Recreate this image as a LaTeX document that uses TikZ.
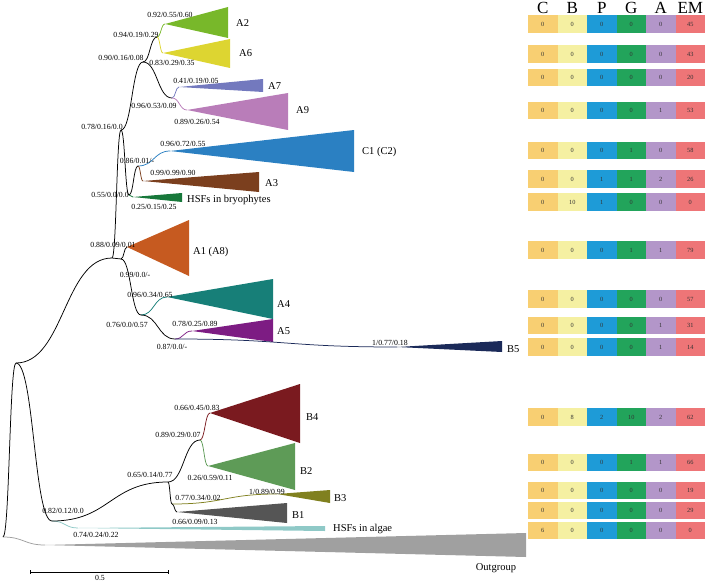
\documentclass[tikz,border=0pt]{standalone}
\usepackage{fontspec}
\setmainfont{Liberation Serif}
\usepackage{xcolor}
\usetikzlibrary{calc,positioning}

% clade colours
\definecolor{colA2}{HTML}{78B82A}
\definecolor{colA6}{HTML}{DDD531}
\definecolor{colA7}{HTML}{7379BE}
\definecolor{colA9}{HTML}{B97DB9}
\definecolor{colC1}{HTML}{2B80C2}
\definecolor{colA3}{HTML}{7B3F1E}
\definecolor{colBr}{HTML}{17783A}
\definecolor{colA1}{HTML}{C65A20}
\definecolor{colA4}{HTML}{177F78}
\definecolor{colA5}{HTML}{7D1C83}
\definecolor{colB5}{HTML}{1B2A59}
\definecolor{colB4}{HTML}{7A1A1F}
\definecolor{colB2}{HTML}{5E9B57}
\definecolor{colB3}{HTML}{80801F}
\definecolor{colB1}{HTML}{555555}
\definecolor{colAl}{HTML}{8FC9C7}
\definecolor{colOg}{HTML}{A0A0A0}
% table colours
\definecolor{tabC}{HTML}{F8CF72}
\definecolor{tabB}{HTML}{F5F0A2}
\definecolor{tabP}{HTML}{1E9BD7}
\definecolor{tabG}{HTML}{22A45B}
\definecolor{tabA}{HTML}{B396C9}
\definecolor{tabE}{HTML}{EE7577}

% curved branch between two named points
\newcommand{\curvedge}[3][black]{%
  \draw[edge,#1] let \p1=(#2),\p2=(#3),\p3=($(\p1)!.5!(\p2)$) in
    (\p1) .. controls (\x3,\y1) and (\x3,\y2) .. (\p2);}
% collapsed clade: apex, right x, top y, bottom y
\newcommand{\clade}[5]{\fill[#1] (#2) -- (#3,#4) -- (#3,#5) -- cycle;}

\begin{document}
\begin{tikzpicture}[
  x=1pt,y=-1pt,
  edge/.style={line width=0.75pt},
  support/.style={inner sep=0pt,font=\fontsize{7.8}{8}\selectfont},
  cladelab/.style={anchor=west,inner sep=0pt,font=\fontsize{10.5}{12}\selectfont},
  cell/.style={minimum width=29.5,minimum height=17.5,inner sep=0pt,
               outer sep=0pt,font=\fontsize{6.3}{7}\selectfont,text=black!80},
  head/.style={anchor=base,inner sep=0pt,font=\fontsize{17}{17}\selectfont}
]
\useasboundingbox (0,0) rectangle (708,583);

% tree points
\coordinate (root) at (3,537);
\coordinate (ing) at (16,363);
\coordinate (n88) at (112,258);
\coordinate (nx) at (121,259);
\coordinate (n78) at (121,130);
\coordinate (n90) at (143,62);
\coordinate (n94) at (157,37);
\coordinate (n96) at (172,98);
\coordinate (n55) at (129,195);
\coordinate (n86) at (138,166);
\coordinate (n76) at (141,315);
\coordinate (n87) at (175,339);
\coordinate (n82) at (52,521);
\coordinate (n65) at (168,482);
\coordinate (n89) at (200,440);
\coordinate (n77) at (172,504);

% clade apexes
\coordinate (tA2) at (165,24);
\coordinate (tA6) at (163,53);
\coordinate (tA7) at (179,87);
\coordinate (tA9) at (187,110);
\coordinate (tC1) at (170,151);
\coordinate (tA3) at (143,181);
\coordinate (tBr) at (133,197);
\coordinate (tA1) at (127,247);
\coordinate (tA4) at (167,297);
\coordinate (tA5) at (192,331);
\coordinate (tB5) at (397,347);
\coordinate (tB4) at (210,413);
\coordinate (tB2) at (208,466);
\coordinate (tB3) at (277,494);
\coordinate (tB1) at (177,512);
\coordinate (tAl) at (78,528);
\coordinate (tOg) at (45,545);

% collapsed clades
\clade{colA2}{tA2}{228}{7}{38}
\clade{colA6}{tA6}{230}{39}{68}
\clade{colA7}{tA7}{263}{79}{92}
\clade{colA9}{tA9}{288}{93}{130}
\clade{colC1}{tC1}{354}{130}{172}
\clade{colA3}{tA3}{259}{172}{192}
\clade{colBr}{tBr}{182}{193}{202}
\clade{colA1}{tA1}{189}{220}{276}
\clade{colA4}{tA4}{273}{279}{319}
\clade{colA5}{tA5}{273}{319}{342}
\clade{colB5}{tB5}{502}{341}{352}
\clade{colB4}{tB4}{300}{384}{443}
\clade{colB2}{tB2}{295}{443}{490}
\clade{colB3}{tB3}{330}{490}{503}
\clade{colB1}{tB1}{287}{503}{523}
\clade{colAl}{tAl}{325}{526}{531}
\clade{colOg}{tOg}{526}{533}{557}

% branches
\curvedge[colOg]{root}{tOg}
\curvedge{root}{ing}
\curvedge{ing}{n88}
\curvedge{ing}{n82}
\curvedge{n88}{n78}
\curvedge{n88}{nx}
\curvedge{nx}{tA1}
\curvedge{nx}{n76}
\curvedge[colA4]{n76}{tA4}
\curvedge{n76}{n87}
\curvedge[colA5]{n87}{tA5}
\curvedge[colB5]{n87}{tB5}
\curvedge{n78}{n90}
\curvedge{n78}{n55}
\curvedge{n90}{n94}
\curvedge{n90}{n96}
\curvedge[colA2]{n94}{tA2}
\curvedge[colA6]{n94}{tA6}
\curvedge[colA7]{n96}{tA7}
\curvedge[colA9]{n96}{tA9}
\curvedge{n55}{n86}
\curvedge[colBr]{n55}{tBr}
\curvedge[colC1]{n86}{tC1}
\curvedge[colA3]{n86}{tA3}
\curvedge[colAl]{n82}{tAl}
\curvedge{n82}{n65}
\curvedge{n65}{n89}
\curvedge{n65}{n77}
\curvedge[colB4]{n89}{tB4}
\curvedge[colB2]{n89}{tB2}
\curvedge[colB3]{n77}{tB3}
\curvedge{n77}{tB1}

% clade names
\node[cladelab] (lA2) at (236,23) {A2};
\node[cladelab] (lA6) at (239,53) {A6};
\node[cladelab] (lA7) at (268,86) {A7};
\node[cladelab] (lA9) at (296,110) {A9};
\node[cladelab] (lC1) at (362,152) {C1 (C2)};
\node[cladelab] (lA3) at (265,183) {A3};
\node[cladelab] (lBr) at (187,200) {HSFs in bryophytes};
\node[cladelab] (lA1) at (193,252) {A1 (A8)};
\node[cladelab] (lA4) at (277,304) {A4};
\node[cladelab] (lA5) at (277,331) {A5};
\node[cladelab] (lB5) at (507,349) {B5};
\node[cladelab] (lB4) at (306,417) {B4};
\node[cladelab] (lB2) at (300,471) {B2};
\node[cladelab] (lB3) at (334,498) {B3};
\node[cladelab] (lB1) at (292,515) {B1};
\node[cladelab] (lAl) at (333,529) {HSFs in algae};
\node[cladelab,anchor=center] (lOg) at (496,568) {Outgroup};

% support values
\node[support] (s1) at (170,15) {0.92/0.55/0.60};
\node[support] (s2) at (136,35) {0.94/0.19/0.29};
\node[support] (s3) at (172,63) {0.83/0.29/0.35};
\node[support] (s4) at (121,58) {0.90/0.16/0.08};
\node[support] (s5) at (196,81) {0.41/0.19/0.05};
\node[support] (s6) at (154,106) {0.96/0.53/0.09};
\node[support] (s7) at (197,122) {0.89/0.26/0.54};
\node[support] (s8) at (102,127) {0.78/0.16/0.0};
\node[support] (s9) at (183,144) {0.96/0.72/0.55};
\node[support] (s10) at (137,161) {0.86/0.01/-};
\node[support] (s11) at (173,173) {0.99/0.99/0.90};
\node[support] (s12) at (110,195) {0.55/0.0/0.0};
\node[support] (s13) at (154,207) {0.25/0.15/0.25};
\node[support] (s14) at (113,245) {0.88/0.09/0.01};
\node[support] (s15) at (135,275) {0.99/0.0/-};
\node[support] (s16) at (150,295) {0.96/0.34/0.65};
\node[support] (s17) at (127,325) {0.76/0.0/0.57};
\node[support] (s18) at (195,324) {0.78/0.25/0.89};
\node[support] (s19) at (172,347) {0.87/0.0/-};
\node[support] (s20) at (390,343) {1/0.77/0.18};
\node[support] (s21) at (197,408) {0.66/0.45/0.83};
\node[support] (s22) at (178,435) {0.89/0.29/0.07};
\node[support] (s23) at (150,475) {0.65/0.14/0.77};
\node[support] (s24) at (210,478) {0.26/0.59/0.11};
\node[support] (s25) at (198,498) {0.77/0.34/0.02};
\node[support] (s26) at (267,492) {1/0.89/0.99};
\node[support] (s27) at (63,511) {0.82/0.12/0.0};
\node[support] (s28) at (195,522) {0.66/0.09/0.13};
\node[support] (s29) at (96,535) {0.74/0.24/0.22};

% scale bar
\coordinate (sb1) at (30,572);
\coordinate (sb2) at (168,572);
\draw[edge,line width=0.6pt] (sb1) -- (sb2);
\draw[line width=0.6pt] ($(sb1)+(0,-2)$) -- ($(sb1)+(0,2)$);
\draw[line width=0.6pt] ($(sb2)+(0,-2)$) -- ($(sb2)+(0,2)$);
\node[support] (sbl) at (100,578) {0.5};

% table header
\node[head] (hC) at (542.75,13.5) {C};
\node[head] (hB) at (572.25,13.5) {B};
\node[head] (hP) at (601.75,13.5) {P};
\node[head] (hG) at (631.25,13.5) {G};
\node[head] (hA) at (660.75,13.5) {A};
\node[head] (hE) at (690.25,13.5) {EM};

% table rows
\foreach \yy/\vc/\vb/\vp/\vg/\va/\ve [count=\i] in
  {24/0/0/0/0/0/45, 54/0/0/0/0/0/43, 77.5/0/0/0/0/0/20, 110.5/0/0/0/0/1/53,
   150.5/0/0/0/1/0/58, 179/0/0/1/1/2/26, 202/0/10/1/0/0/0, 250/0/0/0/1/1/79,
   299/0/0/0/0/0/57, 325.5/0/0/0/0/1/31, 347/0/0/0/0/1/14, 417/0/8/2/10/2/62,
   462.5/0/0/0/1/1/66, 490.5/0/0/0/0/0/19, 510.5/0/0/0/0/0/29, 530.5/6/0/0/0/0/0}{
  \node[cell,fill=tabC] (c\i) at (542.75,\yy) {\vc};
  \node[cell,fill=tabB,right=0pt of c\i] (b\i) {\vb};
  \node[cell,fill=tabP,right=0pt of b\i] (p\i) {\vp};
  \node[cell,fill=tabG,right=0pt of p\i] (g\i) {\vg};
  \node[cell,fill=tabA,right=0pt of g\i] (a\i) {\va};
  \node[cell,fill=tabE,right=0pt of a\i] (e\i) {\ve};
}
\end{tikzpicture}
\end{document}
